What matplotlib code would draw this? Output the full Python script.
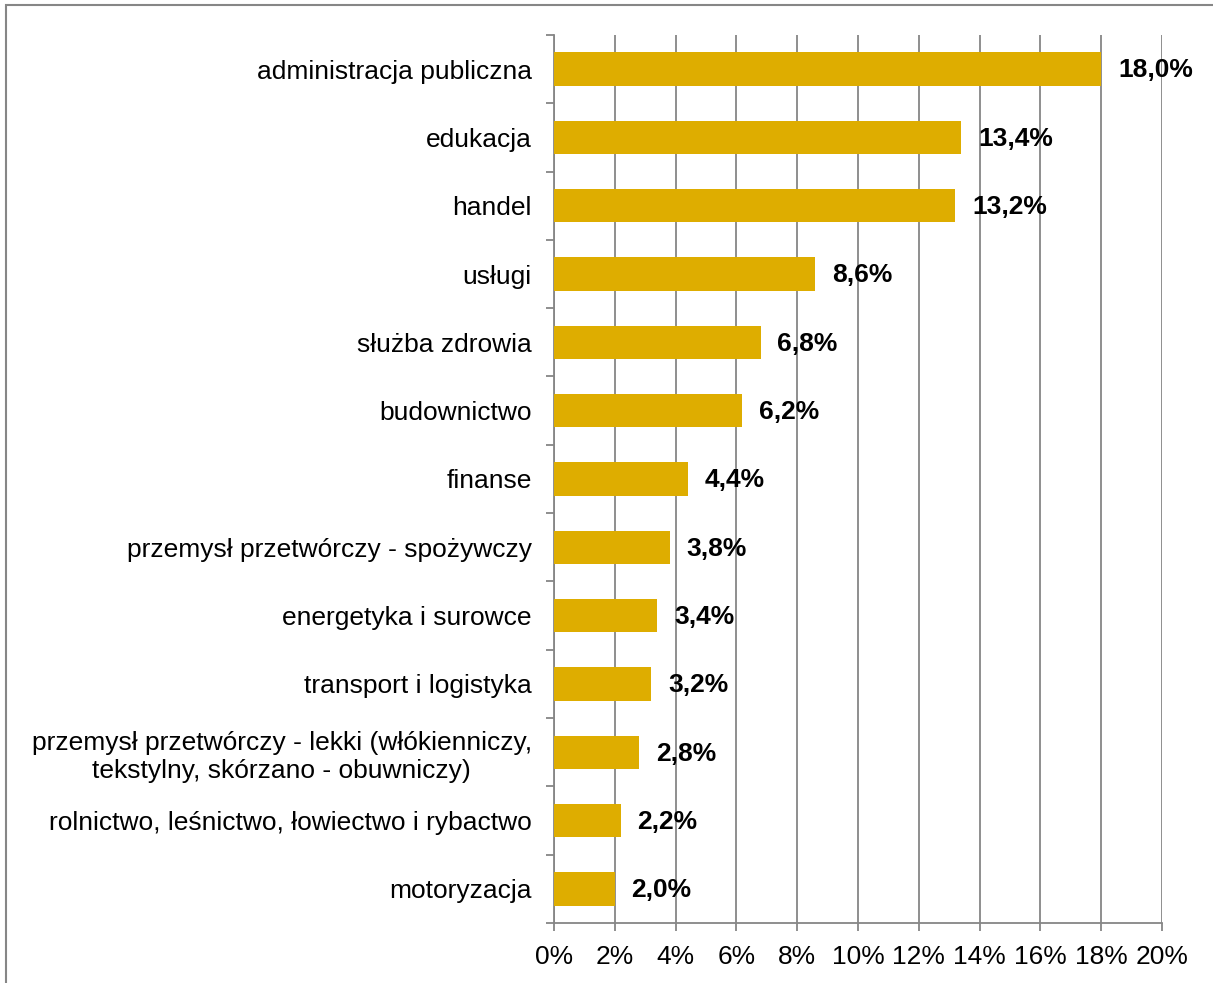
import matplotlib.pyplot as plt
from matplotlib.patches import Rectangle
from matplotlib.ticker import FuncFormatter

plt.rcParams['font.family'] = ['Liberation Sans', 'DejaVu Sans']

branze = [
    'administracja publiczna',
    'edukacja',
    'handel',
    'usługi',
    'służba zdrowia',
    'budownictwo',
    'finanse',
    'przemysł przetwórczy - spożywczy',
    'energetyka i surowce',
    'transport i logistyka',
    'przemysł przetwórczy - lekki (włókienniczy,\ntekstylny, skórzano - obuwniczy)',
    'rolnictwo, leśnictwo, łowiectwo i rybactwo',
    'motoryzacja',
]
udzial = [18.0, 13.4, 13.2, 8.6, 6.8, 6.2, 4.4, 3.8, 3.4, 3.2, 2.8, 2.2, 2.0]
xticks = [0, 2, 4, 6, 8, 10, 12, 14, 16, 18, 20]

fig = plt.figure(figsize=(12.13, 9.83), dpi=100)
ax = fig.add_axes([0.4567, 0.061, 0.5013, 0.9035])

# ramka wokół całego wykresu
fig.patches.append(Rectangle((0.005, -0.01), 1.2, 1.005, transform=fig.transFigure,
                             fill=False, edgecolor='#868686', lw=1.5))

n = len(branze)
pos = list(range(n))
ax.barh(pos, udzial, height=0.49, color='#DEAD00', zorder=3)

for p, v in zip(pos, udzial):
    ax.annotate(f'{v:.1f}'.replace('.', ',') + '%', (v, p), xytext=(12, -1),
                textcoords='offset points', va='center', ha='left',
                fontsize=19, fontweight='bold', zorder=4)

ax.set_xlim(0, 20)
ax.set_ylim(n - 0.5, -0.5)
ax.set_xticks(xticks)
ax.xaxis.set_major_formatter(FuncFormatter(lambda x, _: f'{x:.0f}%'))
ax.grid(axis='x', color='#868686', lw=1.3, zorder=0)

ax.set_yticks(pos)
ax.set_yticklabels(branze, fontsize=19, ha='right', multialignment='center')
ax.set_yticks([p - 0.5 for p in pos] + [n - 0.5], minor=True)
ax.tick_params(axis='y', which='major', length=0, pad=16)
ax.tick_params(axis='y', which='minor', length=6, color='#868686', width=1.3)
ax.tick_params(axis='x', length=6, color='#868686', width=1.3, labelsize=19, pad=10)

for s in ['top', 'right']:
    ax.spines[s].set_visible(False)
for s in ['left', 'bottom']:
    ax.spines[s].set_color('#868686')
    ax.spines[s].set_linewidth(1.3)

fig.savefig('out.png', dpi=100)
